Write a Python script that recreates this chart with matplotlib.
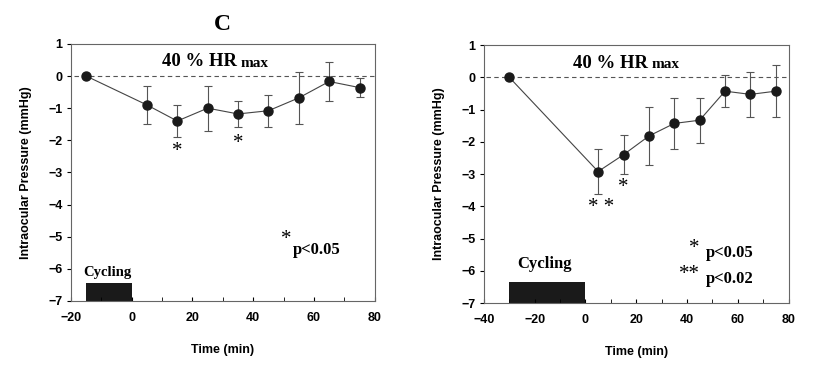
import matplotlib.pyplot as plt

# left panel (C)
t_left = [-15, 5, 15, 25, 35, 45, 55, 65, 75]
iop_left = [0, -0.9, -1.4, -1.0, -1.18, -1.08, -0.68, -0.17, -0.36]
err_left = [0, 0.6, 0.5, 0.7, 0.4, 0.5, 0.8, 0.6, 0.3]

# right panel
t_right = [-30, 5, 15, 25, 35, 45, 55, 65, 75]
iop_right = [0, -2.92, -2.4, -1.82, -1.43, -1.33, -0.43, -0.53, -0.43]
err_right = [0, 0.7, 0.6, 0.9, 0.8, 0.7, 0.5, 0.7, 0.8]

serif = 'Liberation Serif'
sans = 'Liberation Sans'

plt.rcParams['font.family'] = sans
plt.rcParams['font.weight'] = 'bold'
plt.rcParams['font.size'] = 9

fig = plt.figure(figsize=(8.3, 3.72), dpi=100)
ax1 = fig.add_axes([0.0855, 0.191, 0.366, 0.691])
ax2 = fig.add_axes([0.583, 0.185, 0.367, 0.694])


def draw_panel(ax, t, iop, err, xmin, cyc_start, cyc_top):
    ax.plot([xmin + 1, 80], [0, 0], ls='--', color='#555555', lw=0.8, dashes=(4, 3))
    ax.errorbar(t, iop, yerr=err, fmt='none', ecolor='#555555', elinewidth=0.8, capsize=3, capthick=0.8)
    ax.plot(t, iop, color='#444444', lw=0.8)
    ax.plot(t, iop, 'o', color='#1a1a1a', ms=6.5)
    ax.fill_between([cyc_start, 0], -7, cyc_top, color='#1a1a1a', lw=0)
    ax.set_xlim(xmin, 80)
    ax.set_ylim(-7, 1)
    ax.set_xticks(range(xmin, 81, 20))
    ax.set_xticks(range(xmin + 10, 80, 10), minor=True)
    ax.set_yticks(range(-7, 2))
    ax.tick_params(axis='x', direction='in', length=3, pad=8)
    ax.tick_params(axis='x', which='minor', direction='in', length=3)
    ax.tick_params(axis='y', direction='out', length=3, pad=3)
    for sp in ax.spines.values():
        sp.set_color('#666666')
        sp.set_linewidth(0.8)
    ax.set_ylabel('Intraocular Pressure (mmHg)', fontweight='bold', labelpad=12)
    ax.set_xlabel('Time (min)', fontweight='bold', labelpad=14)


draw_panel(ax1, t_left, iop_left, err_left, -20, -15, -6.45)
draw_panel(ax2, t_right, iop_right, err_right, -40, -30, -6.35)

# headings
for ax, xs in [(ax1, 0.545), (ax2, 0.54)]:
    ax.text(xs, 0.93, '40 % HR', transform=ax.transAxes, ha='right', va='center',
            fontfamily=serif, fontweight='bold', fontsize=13.5)
    ax.text(xs + 0.012, 0.923, 'max', transform=ax.transAxes, ha='left', va='center',
            fontfamily=serif, fontweight='bold', fontsize=11)

fig.text(0.2675, 0.935, 'C', ha='center', va='center', fontfamily=serif, fontweight='bold', fontsize=17)

star = dict(ha='center', va='center', fontfamily=serif, fontweight='normal', fontsize=15)

# significance marks, left
ax1.text(15, -2.35, '*', **star)
ax1.text(35, -2.1, '*', **star)
ax1.text(51, -5.1, '*', **star)
ax1.text(53, -5.4, 'p<0.05', ha='left', va='center', fontfamily=serif, fontweight='bold', fontsize=12)
ax1.text(-8, -6.1, 'Cycling', ha='center', va='center', fontfamily=serif, fontweight='bold', fontsize=10.5)

# significance marks, right
ax2.text(15, -3.4, '*', **star)
ax2.text(6, -4.05, '* *', **star)
ax2.text(43, -5.3, '*', **star)
ax2.text(47.5, -5.45, 'p<0.05', ha='left', va='center', fontfamily=serif, fontweight='bold', fontsize=12)
ax2.text(41, -6.1, '**', **star)
ax2.text(47.5, -6.25, 'p<0.02', ha='left', va='center', fontfamily=serif, fontweight='bold', fontsize=12)
ax2.text(-16, -5.8, 'Cycling', ha='center', va='center', fontfamily=serif, fontweight='bold', fontsize=12)

fig.savefig('out.png', dpi=100)
